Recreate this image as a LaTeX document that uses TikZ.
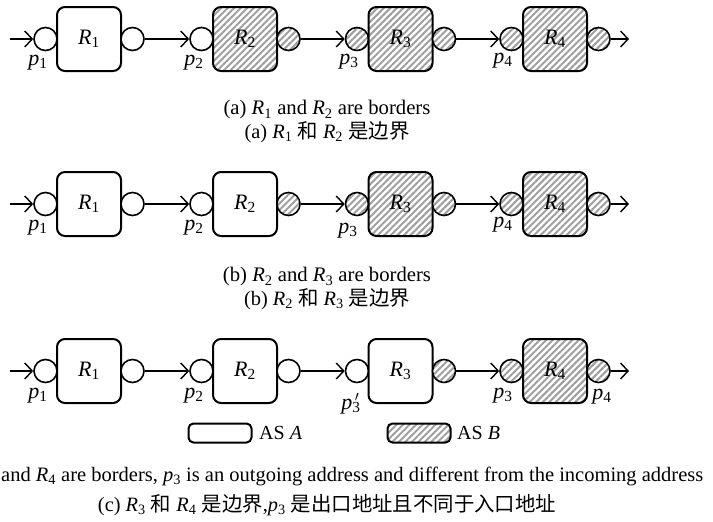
\documentclass[tikz,border=0pt]{standalone}
\usepackage{fontspec}
\setmainfont{Liberation Serif}
\newfontfamily\cjk{Noto Sans CJK SC}
\usetikzlibrary{arrows.meta,patterns.meta}
\newcommand\sy[2]{\textit{#1}\textsubscript{#2}}
\newcommand\pthreeprime{\textit{p}\rlap{\textsuperscript{\,$\prime$}}\textsubscript{3}}
\begin{document}
\begin{tikzpicture}[x=1pt,y=-1pt,
  box/.style={draw, line width=2pt, rounded corners=8pt, minimum width=64pt, minimum height=64pt, inner sep=0pt, font=\fontsize{22}{26}\selectfont},
  wbox/.style={box, fill=white},
  hatchfill/.style={preaction={fill=white}, pattern={Lines[angle=45,distance=4.6pt,line width=2pt]}, pattern color=gray!75},
  hbox/.style={box, hatchfill},
  port/.style={draw, circle, line width=1.6pt, minimum size=23pt, inner sep=0pt},
  wport/.style={port, fill=white},
  hport/.style={port, hatchfill},
  plab/.style={inner sep=0pt, font=\fontsize{22}{26}\selectfont},
  arr/.style={line width=1.4pt, -{Straight Barb[length=7.5pt,width=16pt,line width=1.4pt]}},
  captext/.style={inner sep=0pt, font=\fontsize{20.7}{24}\selectfont},
  capzh/.style={inner sep=0pt, font=\fontsize{20.4}{24}\selectfont},
  legbox/.style={draw, line width=2pt, rounded corners=5pt, minimum width=63pt, minimum height=19pt, inner sep=0pt},
  legtxt/.style={inner sep=0pt, anchor=west, font=\fontsize{20}{24}\selectfont}
]
\useasboundingbox (0,0) rectangle (713,522);

% ---------------- row (a)
\node[wport] (a1i) at (45.5,39) {};
\node[wbox]  (a1)  at (89,39) {\sy R1};
\node[wport] (a1o) at (132.5,39) {};
\node[wport] (a2i) at (201.5,39) {};
\node[hbox]  (a2)  at (245,39) {\sy R2};
\node[hport] (a2o) at (288.5,39) {};
\node[hport] (a3i) at (357,39) {};
\node[hbox]  (a3)  at (400.5,39) {\sy R3};
\node[hport] (a3o) at (444,39) {};
\node[hport] (a4i) at (511.5,39) {};
\node[hbox]  (a4)  at (555,39) {\sy R4};
\node[hport] (a4o) at (598.5,39) {};
\coordinate (ain) at (10,39);
\coordinate (aout) at (629,39);
\draw[arr] (ain) -- (a1i);
\draw[arr] (a1o) -- (a2i);
\draw[arr] (a2o) -- (a3i);
\draw[arr] (a3o) -- (a4i);
\draw[arr] (a4o) -- (aout);
\node[plab] (pa1) at (38,63) {\sy p1};
\node[plab] (pa2) at (194,63) {\sy p2};
\node[plab] (pa3) at (349,62) {\sy p3};
\node[plab] (pa4) at (503,61) {\sy p4};
\node[captext] (capa1) at (327,110) {(a) \sy R1 and \sy R2 are borders};
\node[capzh] (capa2) at (327,132) {(a) \sy R1 {\cjk 和} \sy R2 {\cjk 是边界}};

% ---------------- row (b)
\node[wport] (b1i) at (45.5,204) {};
\node[wbox]  (b1)  at (89,204) {\sy R1};
\node[wport] (b1o) at (132.5,204) {};
\node[wport] (b2i) at (201.5,204) {};
\node[wbox]  (b2)  at (245,204) {\sy R2};
\node[hport] (b2o) at (288.5,204) {};
\node[hport] (b3i) at (357,204) {};
\node[hbox]  (b3)  at (400.5,204) {\sy R3};
\node[hport] (b3o) at (444,204) {};
\node[hport] (b4i) at (511.5,204) {};
\node[hbox]  (b4)  at (555,204) {\sy R4};
\node[hport] (b4o) at (598.5,204) {};
\coordinate (bin) at (10,204);
\coordinate (bout) at (629,204);
\draw[arr] (bin) -- (b1i);
\draw[arr] (b1o) -- (b2i);
\draw[arr] (b2o) -- (b3i);
\draw[arr] (b3o) -- (b4i);
\draw[arr] (b4o) -- (bout);
\node[plab] (pb1) at (38,228) {\sy p1};
\node[plab] (pb2) at (194,228) {\sy p2};
\node[plab] (pb3) at (348,231) {\sy p3};
\node[plab] (pb4) at (503,225) {\sy p4};
\node[captext] (capb1) at (327,277) {(b) \sy R2 and \sy R3 are borders};
\node[capzh] (capb2) at (327,299) {(b) \sy R2 {\cjk 和} \sy R3 {\cjk 是边界}};

% ---------------- row (c)
\node[wport] (c1i) at (45.5,371) {};
\node[wbox]  (c1)  at (89,371) {\sy R1};
\node[wport] (c1o) at (132.5,371) {};
\node[wport] (c2i) at (201.5,371) {};
\node[wbox]  (c2)  at (245,371) {\sy R2};
\node[wport] (c2o) at (288.5,371) {};
\node[wport] (c3i) at (357,371) {};
\node[wbox]  (c3)  at (400.5,371) {\sy R3};
\node[hport] (c3o) at (444,371) {};
\node[hport] (c4i) at (511.5,371) {};
\node[hbox]  (c4)  at (555,371) {\sy R4};
\node[hport] (c4o) at (598.5,371) {};
\coordinate (cin) at (10,371);
\coordinate (cout) at (629,371);
\draw[arr] (cin) -- (c1i);
\draw[arr] (c1o) -- (c2i);
\draw[arr] (c2o) -- (c3i);
\draw[arr] (c3o) -- (c4i);
\draw[arr] (c4o) -- (cout);
\node[plab] (pc1) at (38,396) {\sy p1};
\node[plab] (pc2) at (194,396) {\sy p2};
\node[plab] (pc3b) at (351,404) {\pthreeprime};
\node[plab] (pc3) at (503,396) {\sy p3};
\node[plab] (pc4) at (602,397) {\sy p4};

% legend
\node[legbox, fill=white] (legA) at (220,433) {};
\node[legtxt] (legAt) at (259,433) {AS \textit{A}};
\node[legbox, hatchfill] (legB) at (419,433) {};
\node[legtxt] (legBt) at (457,433) {AS \textit{B}};

\node[captext, anchor=west, font=\fontsize{20.5}{24}\selectfont] (capc1) at (1,476) {and \sy R4 are borders, \sy p3 is an outgoing address and different from the incoming address};
\node[capzh] (capc2) at (327,505) {(c) \sy R3 {\cjk 和} \sy R4 {\cjk 是边界},\sy p3 {\cjk 是出口地址且不同于入口地址}};
\end{tikzpicture}
\end{document}
